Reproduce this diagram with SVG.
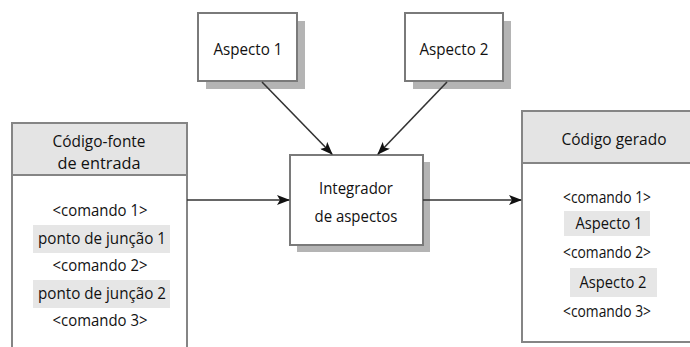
<svg xmlns="http://www.w3.org/2000/svg" width="690" height="347" viewBox="0 0 690 347">
  <defs>
    <marker id="arrow" markerWidth="13" markerHeight="10" refX="12" refY="5" orient="auto" markerUnits="userSpaceOnUse">
      <path d="M0,0 L13,5 L0,10 L3,5 Z" fill="#111"/>
    </marker>
  </defs>
  <style>
    text { font-family: "Open Sans", "Noto Sans", sans-serif; font-size: 16.5px; fill: #111; text-anchor: middle; }
    .box { fill: #fff; stroke: #7a7a7a; stroke-width: 2; }
    .shadow { fill: #b4b4b4; }
    .header { fill: #e4e4e4; }
    .frame { fill: none; stroke: #858585; stroke-width: 2; }
    .hl { fill: #e6e6e6; }
    .edge { fill: none; stroke: #333; stroke-width: 1.6; marker-end: url(#arrow); }
  </style>
  <rect width="690" height="347" fill="#fff"/>

  <!-- source code panel -->
  <g id="codigo-fonte">
    <rect class="header" x="12" y="123" width="175" height="52"/>
    <path class="frame" d="M12,347 V123 H187 V347 M12,175 H187"/>
    <text x="99" y="147" textLength="93" lengthAdjust="spacingAndGlyphs">Código-fonte</text>
    <text x="99" y="169" textLength="83" lengthAdjust="spacingAndGlyphs">de entrada</text>
    <rect class="hl" x="33" y="225" width="137" height="28"/>
    <rect class="hl" x="33" y="280" width="137" height="28"/>
    <text x="100" y="216" textLength="95" lengthAdjust="spacingAndGlyphs">&lt;comando 1&gt;</text>
    <text x="102" y="244" textLength="128" lengthAdjust="spacingAndGlyphs">ponto de junção 1</text>
    <text x="100" y="271" textLength="95" lengthAdjust="spacingAndGlyphs">&lt;comando 2&gt;</text>
    <text x="102" y="299" textLength="128" lengthAdjust="spacingAndGlyphs">ponto de junção 2</text>
    <text x="100" y="326" textLength="95" lengthAdjust="spacingAndGlyphs">&lt;comando 3&gt;</text>
  </g>

  <!-- aspect 1 -->
  <g id="aspecto1">
    <rect class="shadow" x="206" y="21" width="99" height="68"/>
    <rect class="box" x="198" y="13" width="99" height="68"/>
    <text x="248" y="55" textLength="69" lengthAdjust="spacingAndGlyphs">Aspecto 1</text>
  </g>

  <!-- aspect 2 -->
  <g id="aspecto2">
    <rect class="shadow" x="413" y="21" width="98" height="68"/>
    <rect class="box" x="405" y="13" width="98" height="68"/>
    <text x="454" y="55" textLength="69" lengthAdjust="spacingAndGlyphs">Aspecto 2</text>
  </g>

  <!-- aspect weaver -->
  <g id="integrador">
    <rect class="shadow" x="297" y="162" width="133" height="90"/>
    <rect class="box" x="290" y="155" width="133" height="90"/>
    <text x="356" y="194" textLength="74" lengthAdjust="spacingAndGlyphs">Integrador</text>
    <text x="356" y="222" textLength="83" lengthAdjust="spacingAndGlyphs">de aspectos</text>
  </g>

  <!-- generated code panel -->
  <g id="codigo-gerado">
    <rect class="header" x="522" y="111" width="170" height="52"/>
    <path class="frame" d="M692,342 H522 V111 H692 M522,163 H692"/>
    <text x="614" y="145" textLength="105" lengthAdjust="spacingAndGlyphs">Código gerado</text>
    <rect class="hl" x="564" y="211" width="86" height="25"/>
    <rect class="hl" x="570" y="268" width="87" height="29"/>
    <text x="607" y="203" textLength="88" lengthAdjust="spacingAndGlyphs">&lt;comando 1&gt;</text>
    <text x="609" y="229" textLength="67" lengthAdjust="spacingAndGlyphs">Aspecto 1</text>
    <text x="607" y="258" textLength="88" lengthAdjust="spacingAndGlyphs">&lt;comando 2&gt;</text>
    <text x="613" y="288" textLength="67" lengthAdjust="spacingAndGlyphs">Aspecto 2</text>
    <text x="607" y="317" textLength="88" lengthAdjust="spacingAndGlyphs">&lt;comando 3&gt;</text>
  </g>

  <g id="connectors">
    <line class="edge" x1="262" y1="82" x2="332" y2="154"/>
    <line class="edge" x1="447" y1="82" x2="378" y2="154"/>
    <line class="edge" x1="187" y1="200" x2="289" y2="200"/>
    <line class="edge" x1="423" y1="200" x2="521" y2="200"/>
  </g>
</svg>
